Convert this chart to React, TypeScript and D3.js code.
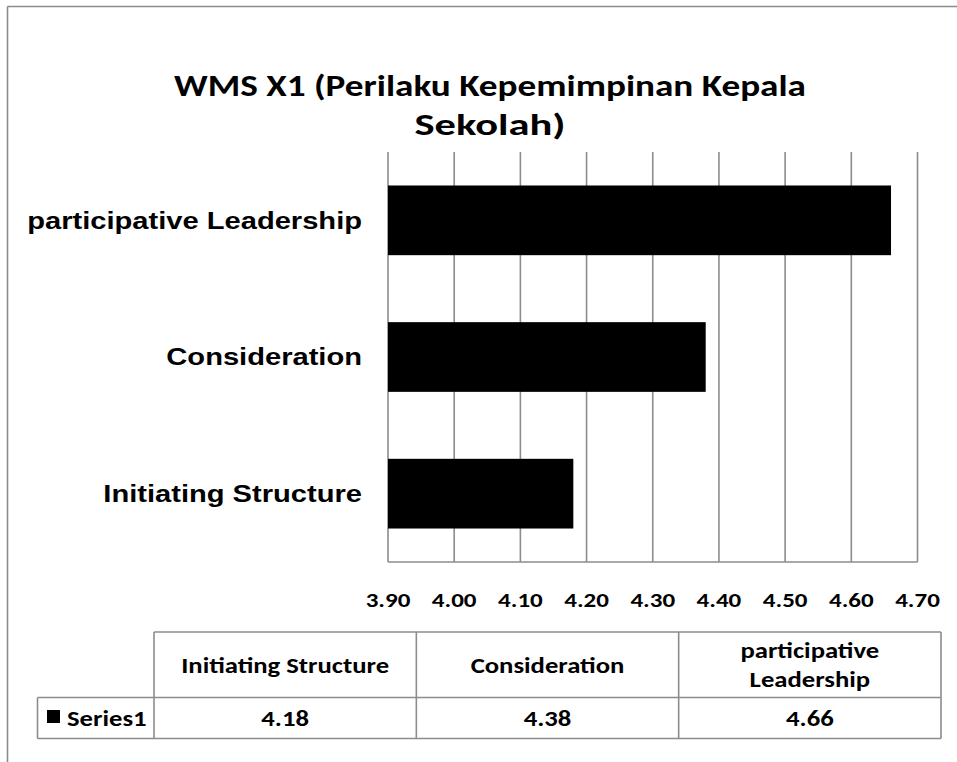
import React from "react";
import * as d3 from "d3";

const categories = ["Initiating Structure", "Consideration", "participative Leadership"];
const values = [4.18, 4.38, 4.66];
const tickValues = [3.9, 4.0, 4.1, 4.2, 4.3, 4.4, 4.5, 4.6, 4.7];
const seriesName = "Series1";
const titleLines = ["WMS X1 (Perilaku Kepemimpinan Kepala", "Sekolah)"];

const W = 957;
const H = 762;
const calibri = "Carlito, 'Open Sans', 'Liberation Sans', sans-serif";
const arial = "'Liberation Sans', Arial, sans-serif";
const grid = "#8c8c8c";
const SX = 1.19; // horizontal stretch of Calibri-like text
const SXA = 1.255; // horizontal stretch of Arial-like text

function SText(props: {
  x: number;
  y: number;
  sx: number;
  anchor: "start" | "middle" | "end";
  size: number;
  family: string;
  children: React.ReactNode;
}) {
  return (
    <g transform={`translate(${props.x},${props.y}) scale(${props.sx},1)`}>
      <text
        x={0}
        y={0}
        textAnchor={props.anchor}
        fontFamily={props.family}
        fontWeight="bold"
        fontSize={props.size}
        fill="#000"
      >
        {props.children}
      </text>
    </g>
  );
}

export default function App() {
  const x = d3.scaleLinear().domain([3.9, 4.7]).range([388, 917.5]);
  const y = d3
    .scaleBand<string>()
    .domain([...categories].reverse())
    .range([152, 562])
    .paddingInner(0.49)
    .paddingOuter(0.245);

  const tableLeft = 154;
  const tableRight = 941;
  const colW = (tableRight - tableLeft) / categories.length;
  const rowTop = 632;
  const rowMid = 697.5;
  const rowBot = 738.5;
  const legendLeft = 37.5;
  const titleWidths = [632, 151];

  return (
    <svg
      width={W}
      height={H}
      style={{ position: "absolute", left: 0, top: 0, background: "#fff" }}
    >
      <rect x={0} y={0} width={W} height={H} fill="#fff" />
      {/* outer frame (only top and left visible) */}
      <line x1={7.5} y1={6.5} x2={W} y2={6.5} stroke={grid} strokeWidth={1.6} />
      <line x1={7.5} y1={6.5} x2={7.5} y2={H} stroke={grid} strokeWidth={1.6} />

      {/* title */}
      {titleLines.map((t, i) => (
        <text
          key={"title" + i}
          x={490}
          y={96 + i * 39}
          textAnchor="middle"
          fontFamily={calibri}
          fontWeight="bold"
          fontSize={29.5}
          textLength={titleWidths[i]}
          lengthAdjust="spacingAndGlyphs"
          fill="#000"
        >
          {t}
        </text>
      ))}

      {/* gridlines */}
      {tickValues.map((t) => (
        <line
          key={"g" + t}
          x1={x(t)}
          x2={x(t)}
          y1={152}
          y2={562}
          stroke={grid}
          strokeWidth={1.6}
        />
      ))}
      <line x1={x(3.9)} x2={x(4.7)} y1={562} y2={562} stroke={grid} strokeWidth={1.6} />

      {/* bars */}
      {categories.map((c, i) => (
        <rect
          key={"b" + c}
          x={x(3.9)}
          y={y(c)!}
          width={x(values[i]) - x(3.9)}
          height={y.bandwidth()}
          fill="#000"
        />
      ))}

      {/* category labels */}
      {categories.map((c) => (
        <SText
          key={"c" + c}
          x={362}
          y={y(c)! + y.bandwidth() / 2 + 8.3}
          sx={SXA}
          anchor="end"
          size={23.2}
          family={arial}
        >
          {c}
        </SText>
      ))}

      {/* tick labels */}
      {tickValues.map((t) => (
        <SText
          key={"t" + t}
          x={x(t)}
          y={607}
          sx={SX}
          anchor="middle"
          size={21}
          family={calibri}
        >
          {d3.format(".2f")(t)}
        </SText>
      ))}

      {/* data table */}
      <g stroke={grid} strokeWidth={1.6} fill="none">
        <line x1={tableLeft} x2={tableRight} y1={rowTop} y2={rowTop} />
        <line x1={legendLeft} x2={tableRight} y1={rowMid} y2={rowMid} />
        <line x1={legendLeft} x2={tableRight} y1={rowBot} y2={rowBot} />
        <line x1={legendLeft} x2={legendLeft} y1={rowMid} y2={rowBot} />
        {d3.range(categories.length + 1).map((k) => (
          <line
            key={"v" + k}
            x1={tableLeft + k * colW}
            x2={tableLeft + k * colW}
            y1={rowTop}
            y2={rowBot}
          />
        ))}
      </g>
      {categories.map((c, i) => {
        const cx = tableLeft + (i + 0.5) * colW;
        const words = c.split(" ");
        const lines =
          c.length > 20 ? [words.slice(0, -1).join(" "), words[words.length - 1]] : [c];
        return (
          <g key={"h" + c}>
            {lines.map((l, j) => (
              <SText
                key={j}
                x={cx}
                y={672.7 + (j - (lines.length - 1) / 2) * 29}
                sx={SX}
                anchor="middle"
                size={22.4}
                family={calibri}
              >
                {l}
              </SText>
            ))}
            <SText
              x={cx}
              y={726}
              sx={SX}
              anchor="middle"
              size={22.4}
              family={calibri}
            >
              {d3.format(".2f")(values[i])}
            </SText>
          </g>
        );
      })}
      <rect x={47} y={710} width={13} height={13} fill="#000" />
      <SText x={67} y={726} sx={SX} anchor="start" size={22.4} family={calibri}>
        {seriesName}
      </SText>
    </svg>
  );
}
